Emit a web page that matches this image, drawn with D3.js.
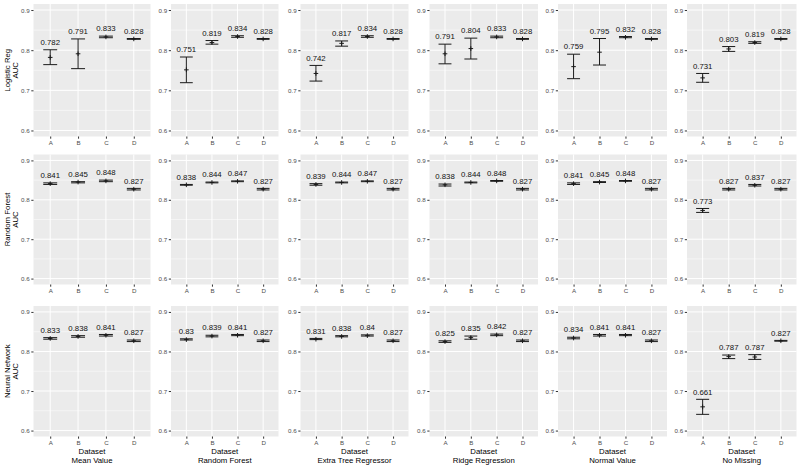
<!DOCTYPE html>
<html><head><meta charset="utf-8">
<script src="https://cdn.jsdelivr.net/npm/d3@7"></script>
<style>body{margin:0;background:#fff}svg{display:block}text{font-family:"Liberation Sans",Arial,sans-serif}#c{opacity:0.999}</style>
</head><body><svg id="c" width="800" height="467"></svg>
<script>
const categories = ["A","B","C","D"];
const methods = ["Mean Value","Random Forest","Extra Tree Regressor","Ridge Regression","Normal Value","No Missing"];
const models = ["Logistic Reg","Random Forest","Neural Network"];
const yTicks = [0.6,0.7,0.8,0.9];

// Logistic Reg
const logisticMean = [
 [0.782,0.791,0.833,0.828],[0.751,0.819,0.834,0.828],[0.742,0.817,0.834,0.828],
 [0.791,0.804,0.833,0.828],[0.759,0.795,0.832,0.828],[0.731,0.803,0.819,0.828]];
const logisticLower = [
 [0.764,0.754,0.831,0.827],[0.719,0.815,0.832,0.827],[0.723,0.810,0.832,0.827],
 [0.766,0.778,0.831,0.827],[0.729,0.763,0.831,0.827],[0.720,0.797,0.817,0.827]];
const logisticUpper = [
 [0.801,0.828,0.835,0.829],[0.783,0.824,0.836,0.829],[0.762,0.823,0.836,0.829],
 [0.815,0.830,0.835,0.829],[0.790,0.829,0.834,0.829],[0.742,0.809,0.821,0.829]];
const logisticLabel = [
 ["0.782","0.791","0.833","0.828"],["0.751","0.819","0.834","0.828"],["0.742","0.817","0.834","0.828"],
 ["0.791","0.804","0.833","0.828"],["0.759","0.795","0.832","0.828"],["0.731","0.803","0.819","0.828"]];

// Random Forest
const forestMean = [
 [0.841,0.845,0.848,0.827],[0.838,0.844,0.847,0.827],[0.839,0.844,0.847,0.827],
 [0.838,0.844,0.848,0.827],[0.841,0.845,0.848,0.827],[0.773,0.827,0.837,0.827]];
const forestLower = [
 [0.839,0.843,0.846,0.825],[0.837,0.843,0.846,0.825],[0.837,0.843,0.846,0.825],
 [0.835,0.843,0.847,0.825],[0.839,0.844,0.847,0.825],[0.768,0.825,0.835,0.825]];
const forestUpper = [
 [0.843,0.846,0.850,0.829],[0.839,0.845,0.848,0.829],[0.841,0.845,0.848,0.829],
 [0.840,0.845,0.849,0.829],[0.843,0.846,0.849,0.829],[0.778,0.829,0.839,0.829]];
const forestLabel = [
 ["0.841","0.845","0.848","0.827"],["0.838","0.844","0.847","0.827"],["0.839","0.844","0.847","0.827"],
 ["0.838","0.844","0.848","0.827"],["0.841","0.845","0.848","0.827"],["0.773","0.827","0.837","0.827"]];

// Neural Network
const neuralMean = [
 [0.833,0.838,0.841,0.827],[0.830,0.839,0.841,0.827],[0.831,0.838,0.840,0.827],
 [0.825,0.835,0.842,0.827],[0.834,0.841,0.841,0.827],[0.660,0.787,0.786,0.827]];
const neuralLower = [
 [0.831,0.836,0.839,0.825],[0.829,0.837,0.840,0.825],[0.830,0.837,0.839,0.825],
 [0.823,0.831,0.840,0.825],[0.832,0.839,0.840,0.825],[0.641,0.782,0.780,0.826]];
const neuralUpper = [
 [0.835,0.840,0.843,0.829],[0.832,0.841,0.843,0.829],[0.833,0.840,0.842,0.829],
 [0.827,0.839,0.844,0.829],[0.836,0.843,0.843,0.829],[0.679,0.791,0.792,0.828]];
const neuralLabel = [
 ["0.833","0.838","0.841","0.827"],["0.83","0.839","0.841","0.827"],["0.831","0.838","0.84","0.827"],
 ["0.825","0.835","0.842","0.827"],["0.834","0.841","0.841","0.827"],["0.661","0.787","0.787","0.827"]];

const meanRows = [logisticMean, forestMean, neuralMean];
const lowerRows = [logisticLower, forestLower, neuralLower];
const upperRows = [logisticUpper, forestUpper, neuralUpper];
const labelRows = [logisticLabel, forestLabel, neuralLabel];

// layout
const colLeft  = [33.5, 171, 300.5, 429.5, 558, 687];
const colRight = [150.5, 278.5, 408.5, 538, 667, 796.5];
const rowTop    = [4, 154.5, 306];
const rowBottom = [136.5, 284.5, 436.5];
const FS = 7.8, TFS = 6.2;

const svg = d3.select("#c");

models.forEach((model, r) => {
  methods.forEach((method, c) => {
    const L = colLeft[c], R = colRight[c], T = rowTop[r], B = rowBottom[r];
    const x = d3.scalePoint().domain(categories).range([L, R]).padding(0.6);
    const y = d3.scaleLinear().domain([0.585, 0.915]).range([B, T]);
    const step = x.step();
    const g = svg.append("g");
    g.append("rect").attr("x", L).attr("y", T).attr("width", R - L).attr("height", B - T).attr("fill", "#EBEBEB");
    // minor grid
    [0.65,0.75,0.85].forEach(v => g.append("line").attr("x1", L).attr("x2", R).attr("y1", y(v)).attr("y2", y(v))
      .attr("stroke", "#fff").attr("stroke-width", 0.5));
    yTicks.forEach(v => g.append("line").attr("x1", L).attr("x2", R).attr("y1", y(v)).attr("y2", y(v))
      .attr("stroke", "#fff").attr("stroke-width", 1));
    categories.forEach(k => g.append("line").attr("x1", x(k)).attr("x2", x(k)).attr("y1", T).attr("y2", B)
      .attr("stroke", "#fff").attr("stroke-width", 1));

    // axes
    const ax = g.append("g").attr("transform", `translate(0,${B})`)
      .call(d3.axisBottom(x).tickSize(2.2).tickPadding(1.6));
    ax.select(".domain").remove();
    ax.selectAll("line").attr("stroke", "#333");
    ax.selectAll("text").attr("fill", "#4d4d4d").style("font-size", TFS + "px").attr("font-family", "Liberation Sans, Arial, sans-serif");
    const ay = g.append("g").attr("transform", `translate(${L},0)`)
      .call(d3.axisLeft(y).tickValues(yTicks).tickFormat(d3.format(".1f")).tickSize(2.2).tickPadding(1.6));
    ay.select(".domain").remove();
    ay.selectAll("line").attr("stroke", "#333");
    ay.selectAll("text").attr("fill", "#4d4d4d").style("font-size", TFS + "px").attr("font-family", "Liberation Sans, Arial, sans-serif");

    const means = meanRows[r][c], lows = lowerRows[r][c], ups = upperRows[r][c], labs = labelRows[r][c];
    const hw = step * 0.25;
    categories.forEach((k, i) => {
      const cx = x(k);
      const eb = g.append("g").attr("stroke", "#1a1a1a").attr("stroke-width", 1);
      eb.append("line").attr("x1", cx).attr("x2", cx).attr("y1", y(lows[i])).attr("y2", y(ups[i]));
      eb.append("line").attr("x1", cx - hw).attr("x2", cx + hw).attr("y1", y(lows[i])).attr("y2", y(lows[i]));
      eb.append("line").attr("x1", cx - hw).attr("x2", cx + hw).attr("y1", y(ups[i])).attr("y2", y(ups[i]));
      // mean marker (plus)
      const my = y(means[i]);
      eb.append("line").attr("x1", cx - 2.3).attr("x2", cx + 2.3).attr("y1", my).attr("y2", my);
      eb.append("line").attr("x1", cx).attr("x2", cx).attr("y1", my - 2.3).attr("y2", my + 2.3);
      g.append("text").attr("x", cx).attr("y", y(ups[i]) - 7.5).attr("dy", "0.35em")
        .attr("text-anchor", "middle").attr("fill", "#111").style("font-size", FS + "px").text(labs[i]);
    });

    // y-axis title only in first column
    if (c === 0) {
      const cy = (T + B) / 2;
      const t = g.append("text").attr("transform", `translate(11,${cy}) rotate(-90)`)
        .attr("text-anchor", "middle").attr("fill", "#000").style("font-size", FS + "px");
      t.append("tspan").attr("x", 0).attr("dy", "-0.1em").text(model);
      t.append("tspan").attr("x", 0).attr("dy", "0.95em").text("AUC");
    }
    // x titles only on bottom row
    if (r === models.length - 1) {
      const cx = (L + R) / 2;
      g.append("text").attr("x", cx).attr("y", 451).attr("dy", "0.35em").attr("text-anchor", "middle")
        .attr("fill", "#000").style("font-size", FS + "px").text("Dataset");
      g.append("text").attr("x", cx).attr("y", 460).attr("dy", "0.35em").attr("text-anchor", "middle")
        .attr("fill", "#000").style("font-size", FS + "px").text(method);
    }
  });
});
</script></body></html>
